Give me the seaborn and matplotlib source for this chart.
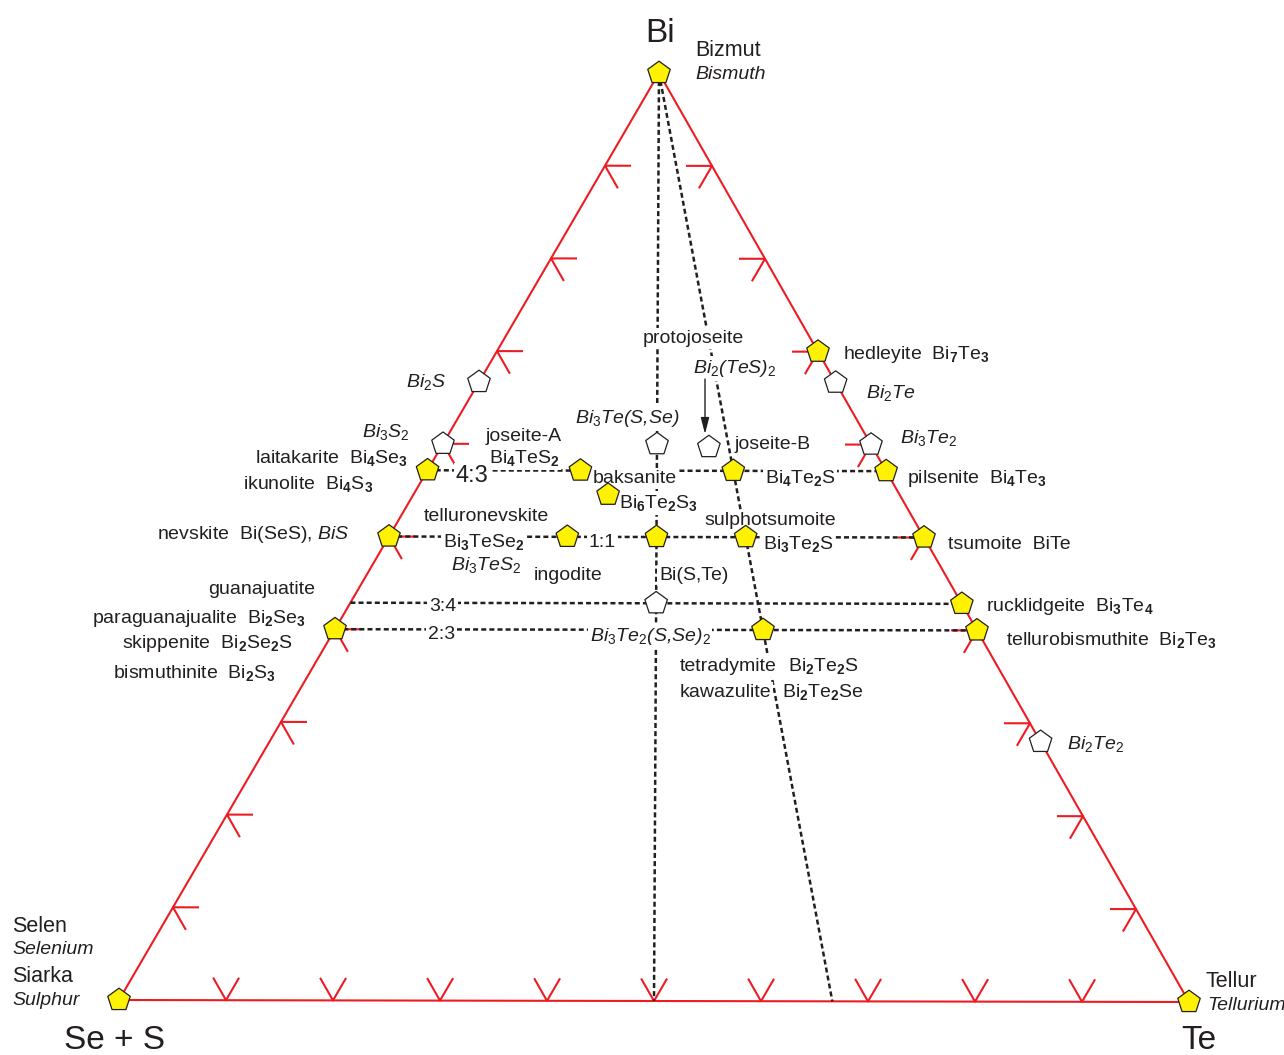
import re
import numpy as np
import pandas as pd
import matplotlib
matplotlib.use("Agg")
import matplotlib.pyplot as plt
from matplotlib.collections import LineCollection
import seaborn as sns

# Bi - Te - (Se+S) system. Compositions are atomic fractions of Bi and Te;
# the remainder is Se+S.
phase_names = [
    "Bi", "Se+S", "Te", "hedleyite", "pilsenite", "tsumoite", "rucklidgeite",
    "tellurobismuthite", "laitakarite", "nevskite", "bismuthinite", "joseite-A",
    "Bi4Te2S", "baksanite", "ingodite", "Bi(S,Te)", "sulphotsumoite", "tetradymite",
    "Bi2S", "Bi3S2", "Bi3Te(S,Se)", "joseite-B", "Bi2Te", "Bi3Te2", "Bi(S,Te) 3:4",
    "Bi2Te2",
]
phase_bi = [
    1.0, 0.0, 0.0, 0.7, 4 / 7, 0.5, 3 / 7,
    0.4, 4 / 7, 0.5, 0.4, 4 / 7,
    4 / 7, 6 / 11, 0.5, 0.5, 0.5, 0.4,
    2 / 3, 0.6, 0.6, 0.597, 2 / 3, 0.6, 3 / 7,
    0.28,
]
phase_te = [
    0.0, 0.0, 1.0, 0.3, 3 / 7, 0.5, 4 / 7,
    0.6, 0.0, 0.0, 0.0, 1 / 7,
    2 / 7, 2 / 11, 1 / 6, 0.25, 1 / 3, 0.4,
    0.0, 0.0, 0.2, 0.25, 1 / 3, 0.4, 2 / 7,
    0.72,
]
phase_status = ["mineral"] * 18 + ["phase"] * 8

# dashed tie lines: start and end compositions (Bi, Te)
tie_start_bi = [1.0, 1.0, 4 / 7, 0.5, 3 / 7, 0.4]
tie_start_te = [0.0, 0.0, 0.0, 0.0, 0.0, 0.0]
tie_end_bi = [0.0, 0.0, 4 / 7, 0.5, 3 / 7, 0.4]
tie_end_te = [0.5, 2 / 3, 3 / 7, 0.5, 4 / 7, 0.6]

# edge graduation (every 10 at.%)
tick_fracs = [0.1, 0.2, 0.3, 0.4, 0.5, 0.6, 0.7, 0.8, 0.9]

RED = "#ED1C24"
YELLOW = "#FFF200"
INK = "#231F20"

sns.set_theme(style="white")
plt.rcParams["font.family"] = ["Liberation Sans", "DejaVu Sans"]
plt.rcParams.update({
    "mathtext.fontset": "custom",
    "mathtext.rm": "Liberation Sans",
    "mathtext.it": "Liberation Sans:italic",
    "mathtext.bf": "Liberation Sans:bold",
    "mathtext.default": "regular",
})

# page layout (pixels, origin top-left): corners of the composition triangle
W, H = 1284, 1055
V_BI = np.array([659.0, 73.0])
V_SES = np.array([119.0, 1000.0])
V_TE = np.array([1189.0, 1002.0])


def tern(bi, te):
    bi = np.asarray(bi, float)
    te = np.asarray(te, float)
    x = V_SES[0] + te * (V_TE[0] - V_SES[0]) + bi * (V_BI[0] - V_SES[0])
    y = V_SES[1] + te * (V_TE[1] - V_SES[1]) + bi * (V_BI[1] - V_SES[1])
    return x, y


def unit(v):
    return v / np.hypot(*v)


fig = plt.figure(figsize=(W / 100, H / 100), dpi=100)
ax = fig.add_axes([0, 0, 1, 1])
ax.set_xlim(0, W)
ax.set_ylim(H, 0)
ax.set_axis_off()

# triangle frame
fx, fy = tern([0, 0, 1, 0], [0, 1, 0, 0])
frame = pd.DataFrame({"x": fx, "y": fy})
sns.lineplot(data=frame, x="x", y="y", sort=False, estimator=None,
             color=RED, linewidth=1.5, zorder=1, ax=ax)

# graduation marks, arms parallel to the grid directions
L = 26.0
d_iso_bi = unit(V_TE - V_SES)      # constant Bi
d_iso_s = unit(V_TE - V_BI)        # constant Se+S
d_iso_te = unit(V_SES - V_BI)      # constant Te
segs = []
for f in tick_fracs:
    a = np.array(tern(f, 0))
    segs.append([a + L * d_iso_bi, a, a + L * d_iso_s])
    b = np.array(tern(f, 1 - f))
    segs.append([b - L * d_iso_bi, b, b + L * d_iso_te])
    c = np.array(tern(0, f))
    segs.append([c - L * d_iso_s, c, c - L * d_iso_te])
ax.add_collection(LineCollection(segs, colors=RED, linewidths=1.5, zorder=1))

# tie lines
rows = []
for i in range(len(tie_start_bi)):
    for bi, te in ((tie_start_bi[i], tie_start_te[i]), (tie_end_bi[i], tie_end_te[i])):
        x, y = tern(bi, te)
        rows.append({"tie": i, "x": float(x), "y": float(y)})
ties = pd.DataFrame(rows)
sns.lineplot(data=ties, x="x", y="y", units="tie", estimator=None, sort=False,
             color=INK, linewidth=1.8, linestyle=(0, (2.0, 1.25)), zorder=2, ax=ax)

# phases
px_, py_ = tern(phase_bi, phase_te)
phases = pd.DataFrame({"name": phase_names, "x": px_, "y": py_, "status": phase_status})
sns.scatterplot(data=phases, x="x", y="y", hue="status",
                palette={"mineral": YELLOW, "phase": "white"},
                marker="p", s=290, edgecolor=INK, linewidth=0.9,
                legend=False, zorder=5, ax=ax)
ax.set_xlabel("")
ax.set_ylabel("")


def chem(s, italic=False):
    tag = r"\mathit" if italic else r"\mathbf"
    return re.sub(r"_(\d)", lambda m: "$_{%s{%s}}$" % (tag, m.group(1)), s)


def label(px, py, s, size=14, ha="left", italic=False):
    fs_px = size * 100 / 72
    ax.text(px, py + 0.36 * fs_px, chem(s, italic), fontsize=size, ha=ha,
            va="baseline", style="italic" if italic else "normal",
            color=INK, zorder=3,
            bbox=dict(boxstyle="square,pad=0.08", fc="white", ec="none"))


# corner symbols and element names
label(660, 30, "Bi", 24, "center")
label(115, 1037, "Se + S", 24, "center")
label(1199, 1037, "Te", 24, "center")
label(695, 48, "Bizmut", 15.5)
label(695, 72, "Bismuth", 14, italic=True)
label(12, 924, "Selen", 15.5)
label(12, 947, "Selenium", 14, italic=True)
label(12, 974, "Siarka", 15.5)
label(12, 998, "Sulphur", 14, italic=True)
label(1206, 979, "Tellur", 15.5)
label(1207, 1003, "Tellurium", 14, italic=True)

# Bi-Te join
label(843, 352, "hedleyite  Bi_7Te_3")
label(866, 391, "Bi_2Te", italic=True)
label(900, 436, "Bi_3Te_2", italic=True)
label(907, 476, "pilsenite  Bi_4Te_3")
label(948, 542, "tsumoite  BiTe")
label(986, 604, "rucklidgeite  Bi_3Te_4")
label(1006, 638, "tellurobismuthite  Bi_2Te_3")
label(1067, 742, "Bi_2Te_2", italic=True)

# interior
label(693, 336, "protojoseite", ha="center")
label(735, 366, "Bi_2(TeS)_2", ha="center", italic=True)
label(627, 416, "Bi_3Te(S,Se)", ha="center", italic=True)
label(735, 442, "joseite-B")
label(524, 434, "joseite-A", ha="center")
label(524, 456, "Bi_4TeS_2", ha="center")
label(593, 476, "baksanite")
label(765, 476, "Bi_4Te_2S")
label(619, 501, "Bi_6Te_2S_3")
label(456, 473, "4:3", 17)
label(486, 514, "telluronevskite", ha="center")
label(770, 518, "sulphotsumoite", ha="center")
label(443, 540, "Bi_3TeSe_2")
label(451, 563, "Bi_3TeS_2", italic=True)
label(589, 540, "1:1")
label(763, 542, "Bi_3Te_2S")
label(568, 573, "ingodite", ha="center")
label(659, 573, "Bi(S,Te)")
label(429, 604, "3:4")
label(428, 632, "2:3")
label(590, 634, "Bi_3Te_2(S,Se)_2", italic=True)
label(680, 664, "tetradymite")
label(788, 664, "Bi_2Te_2S")
label(680, 690, "kawazulite")
label(782, 690, "Bi_2Te_2Se")

# Bi-(Se+S) join
label(446, 380, "Bi_2S", ha="right", italic=True)
label(362, 430, "Bi_3S_2", italic=True)
label(408, 456, "laitakarite  Bi_4Se_3", ha="right")
label(373, 482, "ikunolite  Bi_4S_3", ha="right")
label(350, 532, r"nevskite  Bi(SeS), $\mathit{BiS}$", ha="right")
label(315, 587, "guanajuatite", ha="right")
label(306, 616, "paraguanajualite  Bi_2Se_3", ha="right")
label(292, 641, "skippenite  Bi_2Se_2S", ha="right")
label(276, 671, "bismuthinite  Bi_2S_3", ha="right")

# pointer from Bi2(TeS)2 to its projected position
ax.annotate("", xy=(705, 434), xytext=(705, 379),
            arrowprops=dict(arrowstyle="-|>,head_length=0.7,head_width=0.18",
                            color=INK, lw=1.0, shrinkA=0, shrinkB=0,
                            mutation_scale=14),
            zorder=4)

fig.savefig("out.png", dpi=100, facecolor="white")
